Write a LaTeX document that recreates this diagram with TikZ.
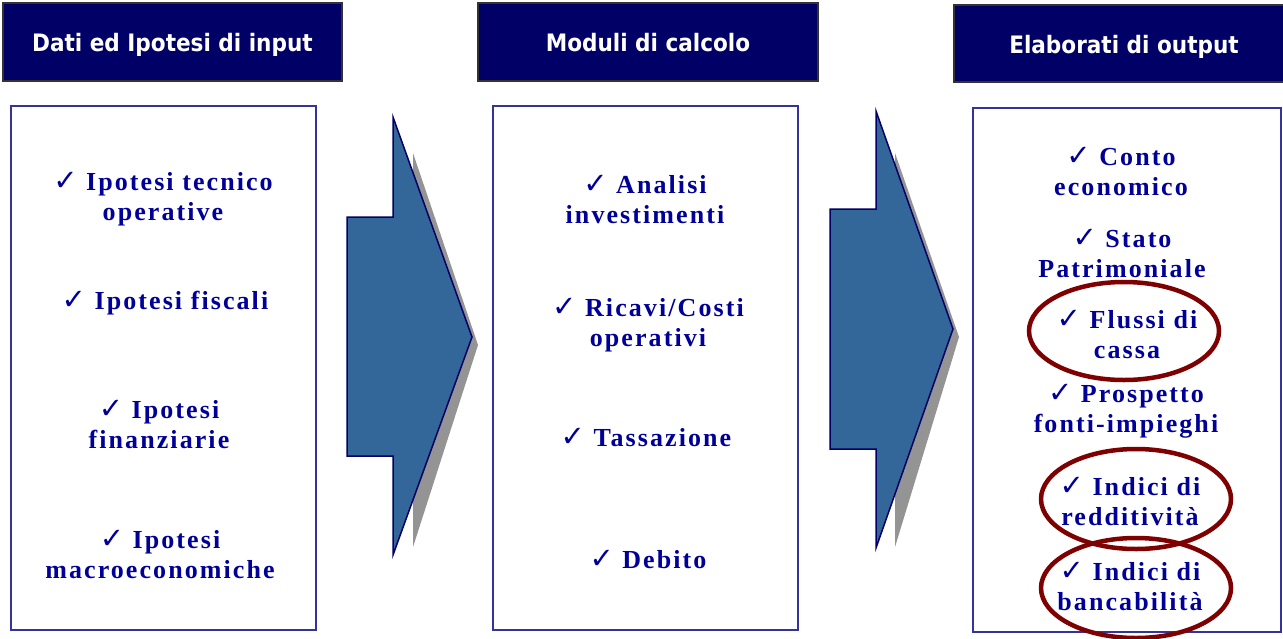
\documentclass[tikz,border=0pt]{standalone}
\usepackage{fontspec}
\setmainfont{Liberation Serif}
\newfontfamily\hdfont{DejaVu Sans Condensed}
\newfontfamily\ckfont{DejaVu Sans}
\newfontfamily\itemfont[LetterSpace=8]{Liberation Serif}
\definecolor{navyhd}{HTML}{000066}
\definecolor{txtblue}{HTML}{000099}
\definecolor{panelline}{HTML}{333399}
\definecolor{arrowfill}{HTML}{336699}
\definecolor{ringred}{HTML}{7F0000}
\newcommand{\ck}{{\ckfont\bfseries\fontsize{29}{29}\selectfont ✓}\ }
\tikzset{
  header/.style={draw=black!80, line width=1.5pt, fill=navyhd, text=white,
    font=\hdfont\bfseries\fontsize{24}{26}\selectfont, inner sep=0pt,
    text height=19pt, text depth=0pt},
  panel/.style={draw=panelline, line width=1.3pt, fill=white, inner sep=0pt},
  item/.style={text=txtblue, align=center, inner sep=0pt,
    font=\itemfont\bfseries\fontsize{26}{30}\selectfont},
  bigarrow/.style={fill=arrowfill, draw=navyhd, line width=1.5pt, line join=miter},
  arrowshadow/.style={fill=black!42},
  ring/.style={draw=ringred, line width=4.5pt}
}
\begin{document}
\begin{tikzpicture}[x=1pt,y=-1pt]
\useasboundingbox (0,0) rectangle (1283,638);
% headers
\node[header, minimum width=339pt, minimum height=78pt] (h1) at (172.5,42) {Dati ed Ipotesi di input};
\node[header, minimum width=340pt, minimum height=78pt] (h2) at (648,42) {Moduli di calcolo};
\node[header, minimum width=340pt, minimum height=77pt] (h3) at (1124,43.5) {Elaborati di output};
% panels
\node[panel, minimum width=305pt, minimum height=524pt] (p1) at (163.5,368) {};
\node[panel, minimum width=305pt, minimum height=524pt] (p2) at (645.5,368) {};
\node[panel, minimum width=308pt, minimum height=524pt] (p3) at (1127,370) {};
% arrow 1
\fill[arrowshadow] (413,153) -- (478,345) -- (413,547) -- cycle;
\draw[bigarrow] (347,217) -- (393,217) -- (393,117) -- (472,337) -- (393,555) -- (393,456) -- (347,456) -- cycle;
% arrow 2
\fill[arrowshadow] (895,153) -- (959,337) -- (895,547) -- cycle;
\draw[bigarrow] (830,209) -- (876,209) -- (876,111) -- (953,329) -- (876,548) -- (876,449) -- (830,449) -- cycle;
% panel 1 items
\node[item] (a1) at (163,199) {\ck Ipotesi tecnico\\operative};
\node[item] (a2) at (165,303) {\ck Ipotesi fiscali};
\node[item] (a3) at (159,424) {\ck Ipotesi\\finanziarie};
\node[item] (a4) at (160,554) {\ck Ipotesi\\macroeconomiche};
% panel 2 items
\node[item] (m1) at (645,199) {\ck Analisi\\investimenti};
\node[item] (m2) at (648,325) {\ck Ricavi/Costi\\operativi};
\node[item] (m3) at (646,437) {\ck Tassazione};
\node[item] (m4) at (648,559) {\ck Debito};
% panel 3 items
\node[item] (o1) at (1121,171) {\ck Conto\\economico};
\node[item] (o2) at (1122,253) {\ck Stato\\Patrimoniale};
\node[item] (o3) at (1127,334) {\ck Flussi di\\cassa};
\node[item] (o4) at (1126,411) {\ck Prospetto\\fonti-impieghi};
\node[item] (o5) at (1130,501) {\ck Indici di\\redditività};
\node[item] (o6) at (1130,586) {\ck Indici di\\bancabilità};
% rings
\draw[ring] (1124,331) ellipse [x radius=95, y radius=49];
\draw[ring] (1136,499) ellipse [x radius=95, y radius=50];
\draw[ring] (1136,588) ellipse [x radius=95, y radius=50];
\end{tikzpicture}
\end{document}
